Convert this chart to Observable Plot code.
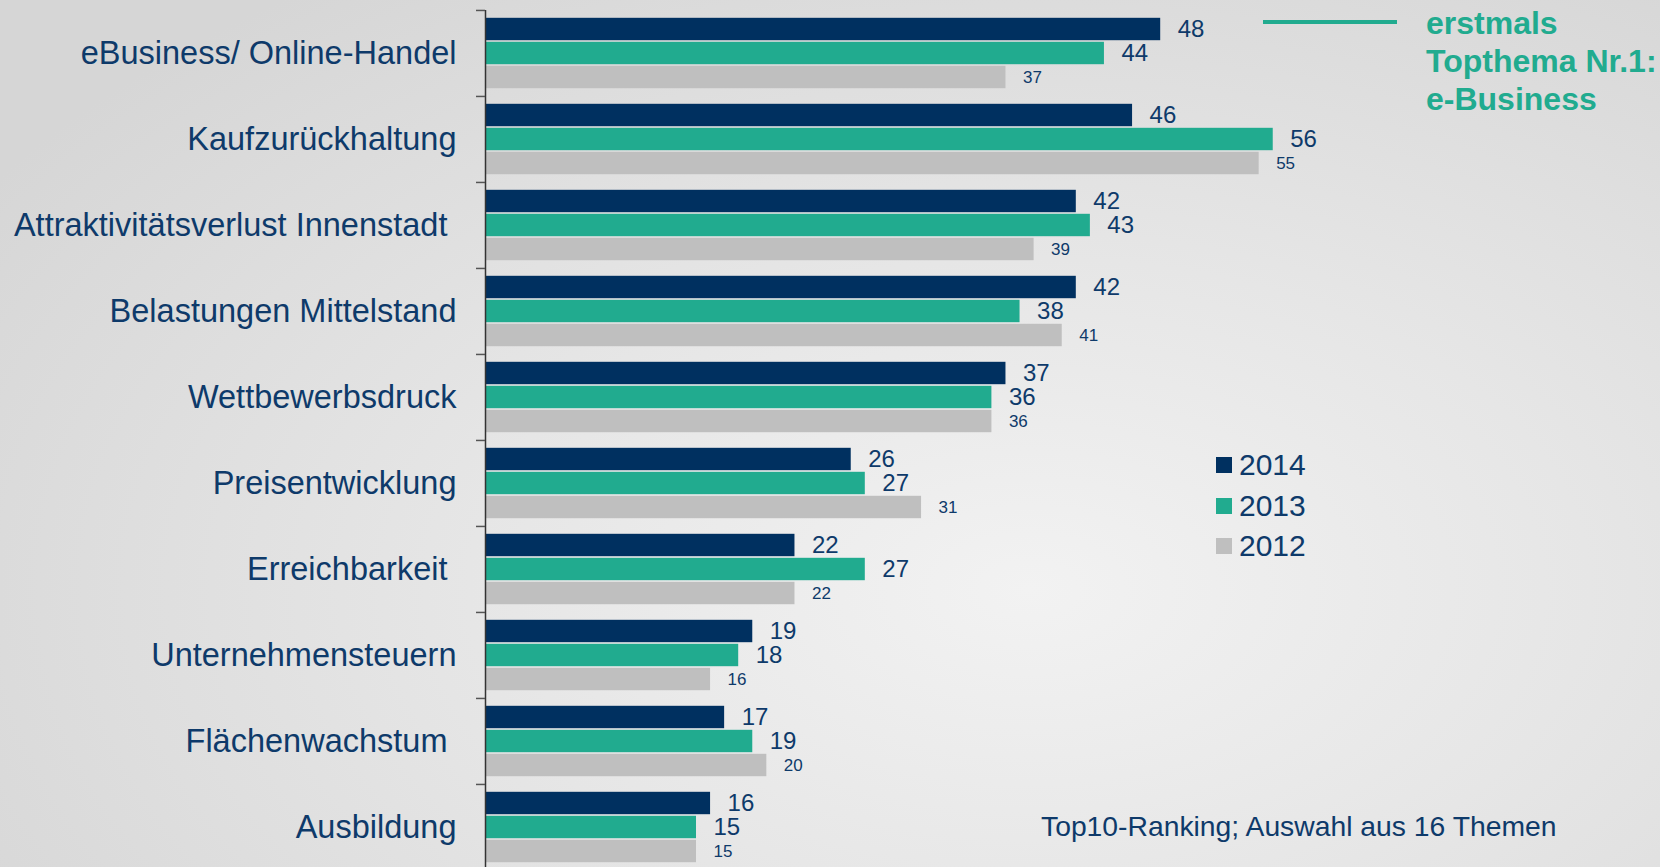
<!DOCTYPE html>
<html>
<head>
<meta charset="utf-8">
<script src="https://cdn.jsdelivr.net/npm/d3@7"></script>
<script src="https://cdn.jsdelivr.net/npm/@observablehq/plot@0.6"></script>
<style>
  html, body { margin:0; padding:0; width:1660px; height:867px; overflow:hidden; }
  body {
    background: radial-gradient(ellipse 75% 85% at 62% 68%, #f2f2f2 0%, #e6e6e6 45%, #d6d6d6 100%);
    font-family: "Liberation Sans", Arial, sans-serif;
    position: relative;
  }
  #chart { position:absolute; left:0; top:0; }
  #legend { position:absolute; left:1216px; top:445px; }
  .row { display:flex; align-items:center; height:40.5px; }
  .sw { width:16px; height:16px; margin-right:7px; }
  .lt { font-size:30px; line-height:1; color:#0e3a6a; }
  #note { position:absolute; left:1426px; top:4px; font-size:32px; font-weight:bold; line-height:38px; color:#21ab8f; white-space:nowrap; }
  #noteline { position:absolute; left:1263px; top:20px; width:134px; height:4px; background:#21ab8f; }
  #caption { position:absolute; left:1041px; top:812px; font-size:28.3px; line-height:1; color:#0e3a6a; white-space:nowrap; }
</style>
</head>
<body>
<div id="chart"></div>
<div id="noteline"></div>
<div id="note"></div>
<div id="legend"></div>
<div id="caption"></div>
<script>
const categories = [
  "eBusiness/ Online-Handel",
  "Kaufzurückhaltung",
  "Attraktivitätsverlust Innenstadt\u00a0",
  "Belastungen Mittelstand",
  "Wettbewerbsdruck",
  "Preisentwicklung",
  "Erreichbarkeit\u00a0",
  "Unternehmensteuern",
  "Flächenwachstum\u00a0",
  "Ausbildung"
];
const years = ["2014", "2013", "2012"];
const values2014 = [48, 46, 42, 42, 37, 26, 22, 19, 17, 16];
const values2013 = [44, 56, 43, 38, 36, 27, 27, 18, 19, 15];
const values2012 = [37, 55, 39, 41, 36, 31, 22, 16, 20, 15];
const yearColors = ["#003060", "#21ab8f", "#bfbfbf"];
const noteLines = ["erstmals", "Topthema Nr.1:", "e-Business"];
const captionText = "Top10-Ranking; Auswahl aus 16 Themen";

const series = [values2014, values2013, values2012];
const rows = [];
categories.forEach((c, i) => {
  years.forEach((y, j) => rows.push({category: c, year: y, value: series[j][i]}));
});

const navy = "#0e3a6a";
const W = 1660, H = 880, MT = 9, MB = 10;
const step = (H - MT - MB) / categories.length;

const chart = Plot.plot({
  width: W,
  height: H,
  marginLeft: 485,
  marginRight: 331,
  marginTop: MT,
  marginBottom: MB,
  style: {background: "transparent", fontFamily: "'Liberation Sans', Arial, sans-serif", overflow: "visible"},
  x: {domain: [0, 60], axis: null},
  y: {domain: years, axis: null, paddingInner: 0, paddingOuter: 0.28, align: 0.47},
  fy: {domain: categories, axis: null, padding: 0},
  color: {domain: years, range: yearColors},
  marks: [
    Plot.barX(rows, {x: "value", y: "year", fy: "category", fill: "year", insetTop: 0.8, insetBottom: 0.8}),
    Plot.ruleX([0], {stroke: "#333", strokeWidth: 1.5}),
    Plot.axisFy({anchor: "left", tickSize: 9, tickFormat: () => "", label: null, dy: -step / 2, stroke: "#555", strokeWidth: 1.5}),
    Plot.text(categories, {fy: d => d, text: d => d, frameAnchor: "left", dx: -29, textAnchor: "end", fontSize: 32.5, fill: navy}),
    Plot.text(rows.filter(d => d.year !== "2012"), {x: "value", y: "year", fy: "category", text: d => String(d.value), dx: 17, textAnchor: "start", fontSize: 24, fill: navy}),
    Plot.text(rows.filter(d => d.year === "2012"), {x: "value", y: "year", fy: "category", text: d => String(d.value), dx: 17, textAnchor: "start", fontSize: 17, fill: navy})
  ]
});
document.getElementById("chart").appendChild(chart);

const legend = document.getElementById("legend");
years.forEach((y, i) => {
  const row = document.createElement("div");
  row.className = "row";
  const sw = document.createElement("div");
  sw.className = "sw";
  sw.style.background = yearColors[i];
  const t = document.createElement("div");
  t.className = "lt";
  t.textContent = y;
  row.appendChild(sw); row.appendChild(t);
  legend.appendChild(row);
});
const note = document.getElementById("note");
noteLines.forEach(l => { const d = document.createElement("div"); d.textContent = l; note.appendChild(d); });
document.getElementById("caption").textContent = captionText;
</script>
</body>
</html>
